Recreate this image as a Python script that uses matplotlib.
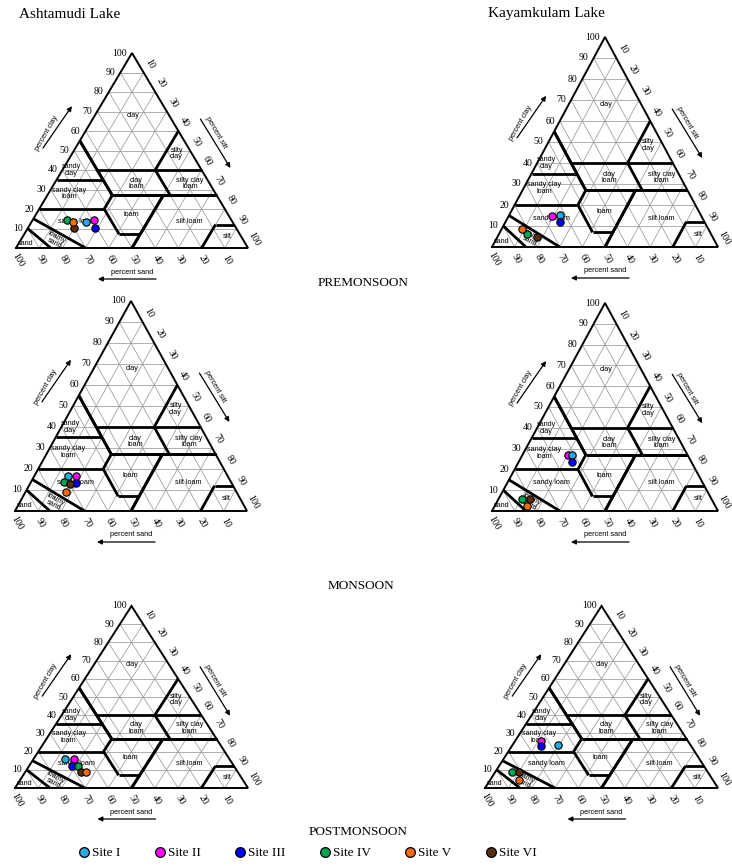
import numpy as np
import matplotlib
matplotlib.use('Agg')
import matplotlib.pyplot as plt
from matplotlib.transforms import offset_copy
from matplotlib.lines import Line2D

W_PX, H_PX, DPI = 732, 866, 100

# ---------------- data ----------------
site_names = ['Site I', 'Site II', 'Site III', 'Site IV', 'Site V', 'Site VI']
site_colors = ['#27aae1', '#ff00ff', '#0000ff', '#00a651', '#f26c0d', '#5a2d0c']

# (percent sand, percent clay) per site; silt = 100 - sand - clay
ash_pre_sand = [63.0, 59.0, 60.8, 71.0, 68.5, 70.0]
ash_pre_clay = [13.5, 14.4, 10.4, 14.4, 13.5, 10.4]
kay_pre_sand = [62.2, 66.0, 64.0, 81.3, 82.7, 77.5]
kay_pre_clay = [15.2, 14.9, 11.7, 6.0, 8.4, 4.9]
ash_mon_sand = [68.8, 65.2, 66.8, 71.7, 73.6, 69.8]
ash_mon_clay = [16.7, 16.7, 13.5, 14.0, 9.2, 12.7]
kay_mon_sand = [51.0, 53.0, 52.8, 83.7, 83.2, 80.4]
kay_mon_clay = [27.1, 27.1, 23.6, 6.0, 2.4, 6.0]
ash_post_sand = [70.5, 66.9, 69.3, 66.7, 65.1, 67.3]
ash_post_clay = [15.8, 15.8, 12.3, 12.3, 8.8, 8.8]
kay_post_sand = [57.0, 63.1, 64.4, 84.2, 83.1, 81.1]
kay_post_clay = [23.5, 25.8, 23.1, 8.6, 4.6, 8.6]

lake_titles = ['Ashtamudi Lake', 'Kayamkulam Lake']
season_titles = ['PREMONSOON', 'MONSOON', 'POSTMONSOON']

# USDA texture classes: polygon vertices as (sand, clay)
usda_classes = {
    'clay': [(0, 100), (0, 60), (20, 40), (45, 40), (45, 55)],
    'sandy clay': [(45, 55), (45, 35), (65, 35)],
    'silty clay': [(0, 60), (0, 40), (20, 40)],
    'sandy clay loam': [(45, 35), (65, 35), (80, 20), (52, 20), (45, 27)],
    'clay loam': [(20, 40), (45, 40), (45, 27), (20, 27)],
    'silty clay loam': [(0, 40), (20, 40), (20, 27), (0, 27)],
    'loam': [(45, 27), (52, 20), (52, 7), (43, 7), (23, 27)],
    'silt loam': [(0, 27), (23, 27), (50, 0), (20, 0), (8, 12), (0, 12)],
    'silt': [(0, 12), (8, 12), (20, 0), (0, 0)],
    'sandy loam': [(52, 20), (80, 20), (85, 15), (70, 0), (50, 0), (43, 7), (52, 7)],
    'loamy sand': [(85, 15), (90, 10), (85, 0), (70, 0)],
    'sand': [(90, 10), (100, 0), (85, 0)],
}
# label text, (sand, clay) position, rotation
class_labels = [
    ('clay', 15.5, 68, 0), ('silty\nclay', 6.5, 48.5, 0), ('sandy\nclay', 56, 40, 0),
    ('clay\nloam', 31.5, 33, 0), ('silty clay\nloam', 8.5, 33, 0),
    ('sandy clay\nloam', 63, 28, 0), ('loam', 42, 17, 0), ('silt loam', 18.5, 13.5, 0),
    ('silt', 6, 5.8, 0), ('sandy loam', 67, 13.5, 0), ('loamy\nsand', 81, 4, -28),
    ('sand', 94.5, 2.5, 0),
]

# triangle pixel boxes: left, right, base, apex (image pixel coords)
panel_boxes = [
    (16, 248, 248, 53), (492, 718, 247, 37),
    (15, 247, 511, 301), (492, 718, 511, 303),
    (15, 248, 788, 606), (485, 718, 788, 606),
]
panel_data = [
    (ash_pre_sand, ash_pre_clay), (kay_pre_sand, kay_pre_clay),
    (ash_mon_sand, ash_mon_clay), (kay_mon_sand, kay_mon_clay),
    (ash_post_sand, ash_post_clay), (kay_post_sand, kay_post_clay),
]
plot_order = [1, 0, 2, 3, 5, 4]

SERIF = ['Liberation Serif', 'DejaVu Serif']
SANS = ['Liberation Sans', 'DejaVu Sans']


def tx(sand, clay):
    sand = np.asarray(sand, float)
    clay = np.asarray(clay, float)
    return 100 - sand - clay / 2.0, clay


def arrow(ax, fig, anchor, start, end):
    x, y = tx(*anchor)
    t0 = offset_copy(ax.transData, fig=fig, x=start[0], y=start[1], units='dots')
    t1 = offset_copy(ax.transData, fig=fig, x=end[0], y=end[1], units='dots')
    ax.annotate('', xy=(x, y), xycoords=t1, xytext=(x, y), textcoords=t0,
                arrowprops=dict(arrowstyle='-|>', lw=0.9, color='black',
                                mutation_scale=7, shrinkA=0, shrinkB=0),
                annotation_clip=False)


def draw_triangle(ax, fig, sand, clay):
    ax.set_xlim(0, 100)
    ax.set_ylim(0, 100)
    ax.axis('off')
    # grid
    for v in range(10, 100, 10):
        for (s0, c0), (s1, c1) in [((100 - v, v), (0, v)),
                                   ((v, 0), (v, 100 - v)),
                                   ((100 - v, 0), (0, 100 - v))]:
            xs, ys = tx([s0, s1], [c0, c1])
            ax.plot(xs, ys, color='#9a9a9a', lw=0.55, zorder=1, clip_on=False)
    # class boundaries (interior only)
    segs = set()
    for verts in usda_classes.values():
        n = len(verts)
        for i in range(n):
            a, b = verts[i], verts[(i + 1) % n]
            if a[0] == 0 and b[0] == 0:
                continue
            if a[1] == 0 and b[1] == 0:
                continue
            if a[0] + a[1] == 100 and b[0] + b[1] == 100:
                continue
            segs.add(tuple(sorted([a, b])))
    for a, b in segs:
        xs, ys = tx([a[0], b[0]], [a[1], b[1]])
        ax.plot(xs, ys, color='black', lw=2.0, zorder=2, clip_on=False,
                solid_capstyle='butt')
    # outline
    xs, ys = tx([100, 0, 0, 100], [0, 0, 100, 0])
    ax.plot(xs, ys, color='black', lw=1.4, zorder=3, clip_on=False,
            solid_joinstyle='miter')
    # class labels
    for txt, s, c, rot in class_labels:
        x, y = tx(s, c)
        ax.text(x, y, txt, fontsize=5.2, family=SANS, ha='center', va='center',
                rotation=rot, linespacing=0.9, zorder=4)
    # ticks
    for v in range(10, 101, 10):
        x, y = tx(100 - v, v)
        ax.annotate(str(v), xy=(x, y), xytext=(-5, 0), textcoords='offset pixels',
                    ha='right', va='center', fontsize=7, family=SERIF,
                    annotation_clip=False)
        x, y = tx(v, 0)
        ax.annotate(str(v), xy=(x, y), xytext=(2, -12), textcoords='offset pixels',
                    ha='center', va='center', fontsize=7, family=SERIF,
                    rotation=-60, annotation_clip=False)
        x, y = tx(0, 100 - v)
        ax.annotate(str(v), xy=(x, y), xytext=(6, 9), textcoords='offset pixels',
                    ha='center', va='center', fontsize=7, family=SERIF,
                    rotation=-60, annotation_clip=False)
    # axis titles
    x, y = tx(38, 62)
    ax.annotate('percent clay', xy=(x, y), xytext=(-41, -6), textcoords='offset pixels',
                ha='center', va='center', rotation=60, fontsize=5.3, family=SANS,
                annotation_clip=False)
    arrow(ax, fig, (38, 62), (-45, -21), (-16, 21))
    x, y = tx(0, 60)
    ax.annotate('percent silt', xy=(x, y), xytext=(37, -2), textcoords='offset pixels',
                ha='center', va='center', rotation=-60, fontsize=5.3, family=SANS,
                annotation_clip=False)
    arrow(ax, fig, (0, 60), (22, 12), (52, -37))
    x, y = tx(50, 0)
    ax.annotate('percent sand', xy=(x, y), xytext=(0, -24), textcoords='offset pixels',
                ha='center', va='center', fontsize=5.3, family=SANS,
                annotation_clip=False)
    arrow(ax, fig, (50, 0), (24, -31), (-34, -31))
    # data points
    for i in plot_order:
        x, y = tx(sand[i], clay[i])
        ax.scatter([x], [y], s=28, color=site_colors[i], edgecolor='black',
                   linewidth=0.8, zorder=6, clip_on=False)


fig = plt.figure(figsize=(W_PX / DPI, H_PX / DPI), dpi=DPI)
for (l, r, b, t), (sand, clay) in zip(panel_boxes, panel_data):
    ax = fig.add_axes([l / W_PX, 1 - b / H_PX, (r - l) / W_PX, (b - t) / H_PX])
    draw_triangle(ax, fig, sand, clay)

fig.text(70 / W_PX, 1 - 14 / H_PX, lake_titles[0], ha='center', va='center',
         fontsize=11, family=SERIF)
fig.text(546 / W_PX, 1 - 14 / H_PX, lake_titles[1], ha='center', va='center',
         fontsize=11, family=SERIF)
for txt, xp, yp in zip(season_titles, [363, 361, 358], [283, 586, 832]):
    fig.text(xp / W_PX, 1 - yp / H_PX, txt, ha='center', va='center',
             fontsize=9.5, family=SERIF)

handles = [Line2D([], [], marker='o', linestyle='none', markersize=7,
                  markerfacecolor=c, markeredgecolor='black', markeredgewidth=0.9)
           for c in site_colors]
fig.legend(handles, site_names, loc='center', bbox_to_anchor=(307 / W_PX, 1 - 853 / H_PX),
           ncol=6, frameon=False, prop={'family': SERIF, 'size': 9.5},
           handletextpad=0.1, columnspacing=2.5, handlelength=1.0, borderpad=0)

fig.savefig('out.png', dpi=DPI)
